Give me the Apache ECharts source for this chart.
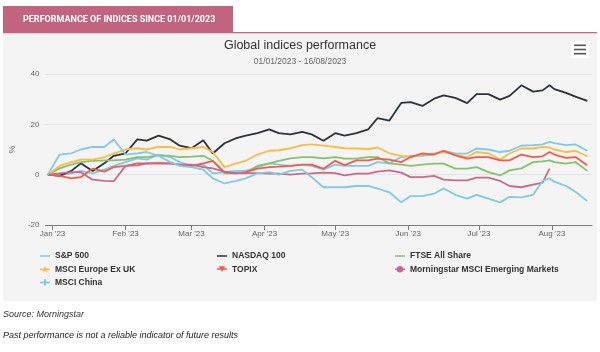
<!DOCTYPE html>
<html>
<head>
<meta charset="utf-8">
<script src="https://cdn.jsdelivr.net/npm/echarts@6/dist/echarts.min.js"></script>
<style>
  html, body { margin: 0; padding: 0; background: #fff; }
  #main { width: 600px; height: 352px; }
</style>
</head>
<body>
<div id="main"></div>
<script>
// sample dates (every few trading days)
var dates = [
  '2022-12-30','2023-01-04','2023-01-09','2023-01-13','2023-01-18','2023-01-23','2023-01-27',
  '2023-02-01','2023-02-06','2023-02-10','2023-02-15','2023-02-20','2023-02-24',
  '2023-03-01','2023-03-06','2023-03-10','2023-03-15','2023-03-20','2023-03-24','2023-03-29',
  '2023-04-03','2023-04-07','2023-04-12','2023-04-17','2023-04-21','2023-04-26',
  '2023-05-01','2023-05-05','2023-05-10','2023-05-15','2023-05-19','2023-05-24','2023-05-29',
  '2023-06-02','2023-06-07','2023-06-12','2023-06-16','2023-06-21','2023-06-26','2023-06-30',
  '2023-07-05','2023-07-10','2023-07-14','2023-07-19','2023-07-24','2023-07-28','2023-07-31',
  '2023-08-02','2023-08-07','2023-08-11','2023-08-16'
];

var sp500 = [
  0, 0, 0.5, 1.5, 0.5, 2, 3.5,
  5, 6.5, 6, 8, 7, 5,
  3.5, 4, 0.5, 1, 1.5, 1.5, 3,
  4.5, 4, 3.5, 4, 3.5, 2,
  4, 3.5, 3.5, 3.5, 5, 4.5, 7,
  7.5, 7.5, 8, 9.5, 8.5, 8.4, 10.4,
  10, 9, 9.5, 11.5, 11.7, 12, 13,
  12.5, 11.7, 12, 9.5
];
var nasdaq = [
  0, -0.5, 1.5, 4.5, 1.5, 4.5, 7.5,
  8.5, 14, 13.5, 15.5, 14, 11.5,
  10.5, 13.7, 8.4, 12.5, 14.5, 15.5, 16.5,
  18, 16.5, 16, 17, 16, 13.5,
  16.5, 15.5, 16.5, 18, 22.5, 21.5, 28.5,
  28.8, 27.3, 30.2, 31.5, 30.5, 28.4, 32,
  32, 29.8, 31.3, 35.5, 33, 33.5, 35.5,
  34, 32.5, 31, 29.3
];
var ftse = [
  0, 2.5, 4, 5, 5.5, 5.7, 5.7,
  6, 7, 7, 7.7, 7.5, 7,
  7.2, 7.5, 5.5, 0.5, 0.5, 0.5, 3.5,
  4.5, 5.5, 6.5, 7, 7, 6.5,
  7, 6.4, 6.4, 7, 7, 4.5, 4,
  3.5, 4, 4.4, 4.4, 2.4, 2.4, 3,
  1, -0.3, 1.7, 2.5, 5, 5.3, 5.7,
  5, 4.4, 5, 1.5
];
var europeExUk = [
  0, 3.5, 5, 6, 6, 7, 8.4,
  10, 10.5, 10, 11, 11, 10,
  10.5, 11, 9, 3, 4.5, 5.5, 8,
  9.5, 9.7, 10.5, 11.7, 12, 11.5,
  11, 10.5, 10.4, 10.2, 10.8, 8.5, 7.5,
  7, 8, 8.5, 9, 8, 7, 9,
  8.5, 6, 8.4, 10.4, 10.4, 11, 10.8,
  10, 9, 9.5, 7.3
];
var topix = [
  0, -0.5, -1.5, -1, 2.4, 1.2, 3,
  3.5, 4.5, 4.5, 4.7, 4.5, 4,
  3.5, 4.5, 5.5, 1, 0.5, 1, 2.4,
  3, 3.2, 3.5, 4, 4, 2.4,
  5.5, 3.8, 5.7, 5.7, 6.4, 6, 5,
  7, 8.5, 8, 9.5, 7.7, 6.4, 7,
  7, 5.7, 5.7, 8, 7, 7.3, 9,
  8, 6.7, 7, 3.7
];
var emMarkets = [
  0, 0.5, 1, 1, -2, -2.5, -2.6,
  3.5, 3.7, 4.5, 4.4, 4.4, 4,
  4, 3, 2.5, 1.2, 0.6, 0.6, 0.6,
  0.4, 0.4, 0, 0.4, 0.5, 0.8,
  0.6, -0.3, 0.4, 0.4, 1.2, 1.7, 0.8,
  -1, -1, -0.5, -2, -2.3, -2.3, -1.2,
  -1.2, -2.5, -4.5, -5, -4, -3.2, 2.4,
  null, null, null, null
];
var msciChina = [
  0, 8, 8.5, 10, 11, 11, 14,
  8, 8.5, 9, 7.5, 5, 3.5,
  3, 2, -1.5, -3.5, -2.5, -1.5, 0.5,
  1, 0, 1.5, 2, -1, -5,
  -5, -5, -4.5, -4.5, -5.5, -7, -11,
  -8.5, -8.5, -7.5, -5.5, -8, -9.5, -8,
  -9.5, -11, -8.8, -9, -8, -2.5, -1.5,
  -2.8, -4.5, -6.8, -10.5
];

var monthStarts = ['2023-01-01','2023-02-01','2023-03-01','2023-04-01','2023-05-01','2023-06-01','2023-07-01','2023-08-01'];
var monthLabels = ["Jan '23","Feb '23","Mar '23","Apr '23","May '23","Jun '23","Jul '23","Aug '23"];

function dayOf(s) {
  var p = s.split('-');
  return (Date.UTC(+p[0], +p[1] - 1, +p[2]) - Date.UTC(2023, 0, 1)) / 86400000;
}
var tickDays = monthStarts.map(dayOf);

function pts(vals) {
  return dates.map(function (d, i) { return [dayOf(d), vals[i]]; });
}

// legend icons: line, line + marker
var ICON_LINE = 'path://M0,3.25H10V4.75H0Z';
var ICON_STAR = 'path://M0,3.25H10V4.75H0Z M5,0.4L5.88,2.79L8.42,2.89L6.43,4.46L7.12,6.91L5,5.5L2.88,6.91L3.57,4.46L1.58,2.89L4.12,2.79Z';
var ICON_TRI = 'path://M0,3.25H10V4.75H0Z M1.8,1.2H8.2L5,7Z';
var ICON_DOT = 'path://M0,3.25H10V4.75H0Z M8.3,4A3.3,3.3 0 1,1 1.7,4A3.3,3.3 0 1,1 8.3,4Z';
var ICON_PLUS = 'path://M0,3.25H10V4.75H0Z M4,0.8H6V3H8.4V5H6V7.2H4V5H1.6V3H4Z';

var seriesDefs = [
  { name: 'S&P 500', data: sp500, color: '#7ccbe6' },
  { name: 'NASDAQ 100', data: nasdaq, color: '#2b3238' },
  { name: 'FTSE All Share', data: ftse, color: '#86c26c' },
  { name: 'MSCI Europe Ex UK', data: europeExUk, color: '#fbbb45' },
  { name: 'TOPIX', data: topix, color: '#f25c4e' },
  { name: 'Morningstar MSCI Emerging Markets', data: emMarkets, color: '#c86a8c' },
  { name: 'MSCI China', data: msciChina, color: '#82c9e6' }
];

var legendText = { color: '#333', fontSize: 8.5, fontWeight: 'bold', fontFamily: 'Liberation Sans, Arial, sans-serif', lineHeight: 10 };
function legendCol(left, items) {
  return {
    orient: 'vertical', left: left, top: 251, padding: 0,
    itemWidth: 10, itemHeight: 8, itemGap: 3.2,
    itemStyle: { borderWidth: 0 },
    textStyle: legendText,
    selectedMode: false,
    data: items
  };
}

var chart = echarts.init(document.getElementById('main'));
chart.setOption({
  backgroundColor: '#fff',
  animation: false,
  title: {
    text: 'Global indices performance',
    subtext: '01/01/2023 - 16/08/2023',
    left: 'center', top: 39, padding: 0, itemGap: 5,
    textStyle: { color: '#333', fontSize: 12.5, fontWeight: 'normal', fontFamily: 'Liberation Sans, Arial, sans-serif' },
    subtextStyle: { color: '#666', fontSize: 8.5, fontFamily: 'Liberation Sans, Arial, sans-serif' }
  },
  legend: [
    legendCol(40, [
      { name: 'S&P 500', icon: ICON_LINE },
      { name: 'MSCI Europe Ex UK', icon: ICON_STAR },
      { name: 'MSCI China', icon: ICON_PLUS }
    ]),
    legendCol(217, [
      { name: 'NASDAQ 100', icon: ICON_LINE },
      { name: 'TOPIX', icon: ICON_TRI }
    ]),
    legendCol(395, [
      { name: 'FTSE All Share', icon: ICON_LINE },
      { name: 'Morningstar MSCI Emerging Markets', icon: ICON_DOT }
    ])
  ],
  grid: { left: 43, right: 8, top: 74, bottom: 127 },
  xAxis: {
    type: 'value',
    min: -3, max: 229,
    axisLine: { onZero: false, lineStyle: { color: '#7d7d7d', width: 1 } },
    axisTick: { show: true, length: 5, customValues: tickDays, lineStyle: { color: '#7d7d7d' } },
    axisLabel: {
      customValues: tickDays, margin: 5,
      color: '#666', fontSize: 8, fontFamily: 'Liberation Sans, Arial, sans-serif',
      formatter: function (v) { var i = tickDays.indexOf(v); return i >= 0 ? monthLabels[i] : ''; }
    },
    splitLine: { show: false }
  },
  yAxis: {
    type: 'value',
    min: -20, max: 40, interval: 20,
    name: '%', nameLocation: 'middle', nameGap: 23, nameRotate: 90,
    nameTextStyle: { color: '#666', fontSize: 9, fontFamily: 'Liberation Sans, Arial, sans-serif' },
    axisLine: { show: false },
    axisTick: { show: false },
    axisLabel: { color: '#666', fontSize: 8, margin: 6, fontFamily: 'Liberation Sans, Arial, sans-serif' },
    splitLine: { lineStyle: { color: '#e3e3e3' } }
  },
  series: seriesDefs.map(function (s) {
    return {
      name: s.name, type: 'line', data: pts(s.data),
      symbol: 'none', showSymbol: false, connectNulls: false,
      color: s.color,
      lineStyle: { color: s.color, width: 1.8 },
      itemStyle: { color: s.color }
    };
  }),
  graphic: [
    { type: 'rect', z: -100, silent: true, shape: { x: 3, y: 33, width: 594, height: 268 }, style: { fill: '#f4f4f4' } },
    { type: 'rect', z: 10, silent: true, shape: { x: 3, y: 6, width: 230, height: 27 }, style: { fill: '#c2637f' } },
    { type: 'rect', z: 10, silent: true, shape: { x: 3, y: 32, width: 594, height: 1.2 }, style: { fill: '#c2637f' } },
    { type: 'text', z: 11, silent: true, left: 23, top: 15, style: { text: 'PERFORMANCE OF INDICES SINCE 01/01/2023', fill: '#fff', fontSize: 9, fontWeight: 'bold', fontFamily: 'Liberation Sans Narrow, Roboto, sans-serif' } },
    { type: 'rect', z: 10, silent: true, shape: { x: 571, y: 41, width: 18, height: 17, r: 2 }, style: { fill: '#fff' } },
    { type: 'rect', z: 11, silent: true, shape: { x: 574, y: 44.5, width: 12, height: 1.6 }, style: { fill: '#555' } },
    { type: 'rect', z: 11, silent: true, shape: { x: 574, y: 48.7, width: 12, height: 1.6 }, style: { fill: '#555' } },
    { type: 'rect', z: 11, silent: true, shape: { x: 574, y: 52.9, width: 12, height: 1.6 }, style: { fill: '#555' } },
    { type: 'text', z: 11, silent: true, left: 3, top: 310, style: { text: 'Source: Morningstar', fill: '#333', fontSize: 9, fontStyle: 'italic', fontFamily: 'Liberation Sans, Arial, sans-serif' } },
    { type: 'text', z: 11, silent: true, left: 3, top: 331, style: { text: 'Past performance is not a reliable indicator of future results', fill: '#222', fontSize: 9, fontStyle: 'italic', fontFamily: 'Liberation Sans, Arial, sans-serif' } }
  ]
});
</script>
</body>
</html>
